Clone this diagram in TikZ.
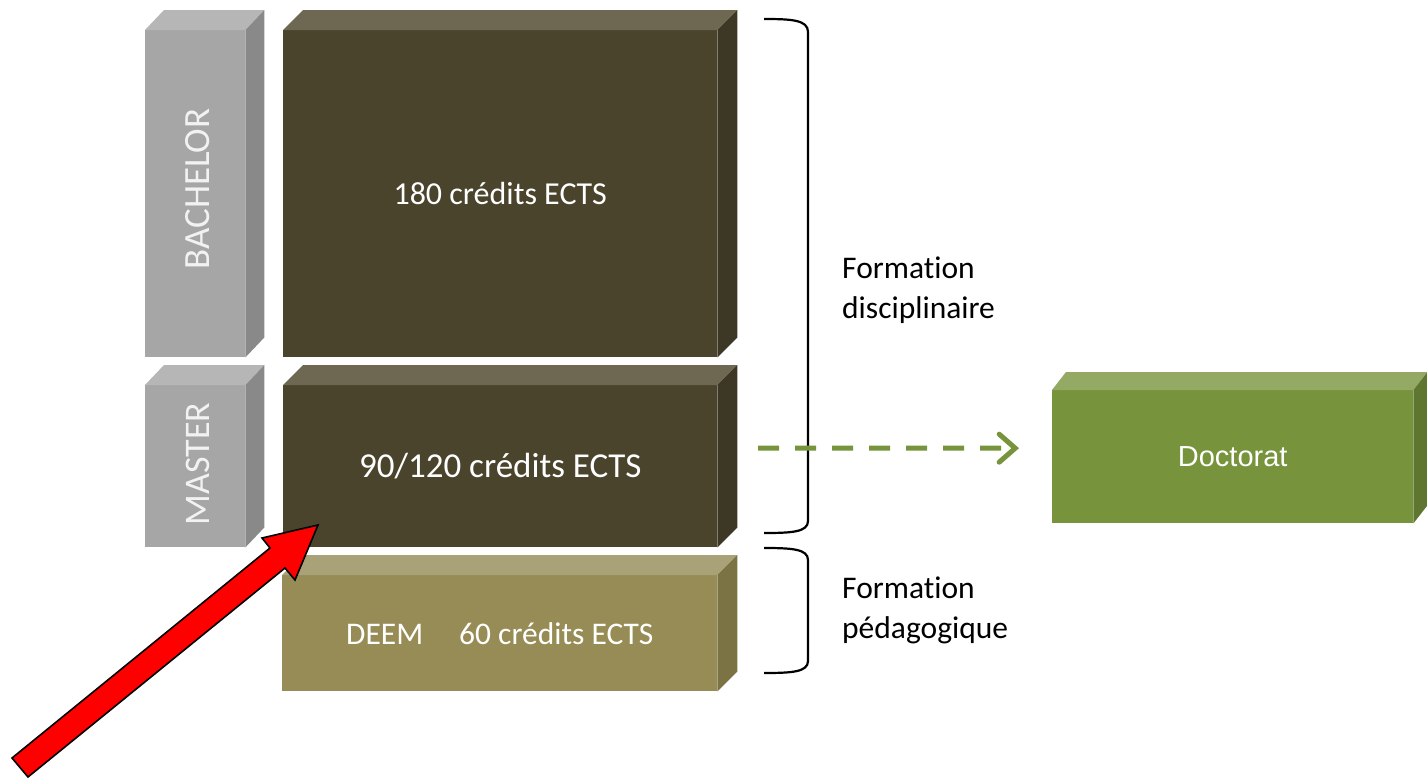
\documentclass[tikz,border=0pt]{standalone}
\usepackage{fontspec}
\setmainfont{Carlito}[Ligatures=NoCommon]
\newfontfamily\arialf{Liberation Sans}
\usetikzlibrary{calc,arrows.meta}
\definecolor{grayF}{HTML}{A6A6A6}
\definecolor{grayT}{HTML}{B6B6B6}
\definecolor{grayS}{HTML}{898989}
\definecolor{darkF}{HTML}{4A442D}
\definecolor{darkT}{HTML}{6E6853}
\definecolor{darkS}{HTML}{3D3825}
\definecolor{deemF}{HTML}{978C55}
\definecolor{deemT}{HTML}{A9A177}
\definecolor{deemS}{HTML}{7C7344}
\definecolor{docF}{HTML}{77933C}
\definecolor{docT}{HTML}{94A964}
\definecolor{docS}{HTML}{5F7630}
\definecolor{arrowG}{HTML}{77933C}
\tikzset{
  front/.style={inner sep=0pt, anchor=north west, text=white, font=\fontsize{32}{38}\selectfont},
  vlabel/.style={inner sep=0pt, rotate=90, text=white!95!black, font=\fontsize{36}{40}\selectfont},
  sidetext/.style={inner sep=0pt, anchor=north west, align=left, font=\fontsize{31.5}{40}\selectfont},
  bracket/.style={line width=2.2pt, black},
  dasharrow/.style={arrowG, line width=5pt, dash pattern=on 21pt off 16pt,
    -{Straight Barb[length=16pt, width=28pt, line cap=round]}},
  bigarrow/.style={fill=red, draw=black, line width=1.6pt, line join=miter},
}
\newcommand{\cubefaces}[5]{%
  \fill[#4] (#1.north west) -- ++(#2,-#3) -- ($(#1.north east)+(#2,-#3)$) -- (#1.north east) -- cycle;
  \fill[#5] (#1.north east) -- ++(#2,-#3) -- ($(#1.south east)+(#2,-#3)$) -- (#1.south east) -- cycle;
}
\begin{document}
\begin{tikzpicture}[x=1pt, y=-1pt]
\useasboundingbox (0,0) rectangle (1427,779);
% gray blocks
\node[front, fill=grayF, minimum width=100pt, minimum height=327pt] (bg) at (145,30) {};
\cubefaces{bg}{19}{20}{grayT}{grayS}
\node[vlabel, font=\fontsize{37}{40}\selectfont] (bglbl) at (198,189) {BACHELOR};
\node[front, fill=grayF, minimum width=100pt, minimum height=162pt] (mg) at (145,385) {};
\cubefaces{mg}{19}{20}{grayT}{grayS}
\node[vlabel] (mglbl) at (198,464) {MASTER};
% dark blocks
\node[front, fill=darkF, minimum width=434pt, minimum height=327pt] (bd) at (283,30) {180 crédits ECTS};
\cubefaces{bd}{20}{20}{darkT}{darkS}
\node[front, fill=darkF, minimum width=434pt, minimum height=162pt, font=\fontsize{35}{40}\selectfont] (md) at (283,385) {90/120 crédits ECTS};
\cubefaces{md}{20}{20}{darkT}{darkS}
% DEEM
\node[front, fill=deemF, minimum width=435pt, minimum height=116pt, font=\fontsize{31.5}{36}\selectfont] (deem) at (282,575) {DEEM\hspace{36pt}60 crédits ECTS};
\cubefaces{deem}{20}{20}{deemT}{deemS}
% Doctorat
\node[front, fill=docF, minimum width=361pt, minimum height=133pt, font=\arialf\fontsize{29}{32}\selectfont] (doc) at (1052,390) {Doctorat};
\cubefaces{doc}{14}{18}{docT}{docS}
% brackets
\coordinate (b1t) at (764,19);
\coordinate (b1b) at (764,533);
\draw[bracket] (b1t) .. controls (792,19) and (808,20) .. (808,32) -- (808,521) .. controls (808,532) and (792,533) .. (b1b);
\coordinate (b2t) at (764,548);
\coordinate (b2b) at (764,673);
\draw[bracket] (b2t) .. controls (792,548) and (808,549) .. (808,560) -- (808,661) .. controls (808,672) and (792,673) .. (b2b);
% side texts
\node[sidetext] (fdisc) at (842,257) {Formation\\disciplinaire};
\node[sidetext] (fped) at (842,577) {Formation\\pédagogique};
% dashed arrow
\coordinate (dstart) at (758,448);
\coordinate (dend) at ($(doc.west)+(-33,-8.5)$);
\draw[dasharrow] (dstart) -- (dend);
% red arrow
\coordinate (rtip) at (318,525);
\draw[bigarrow] (12,758) -- (270,548) -- (262,538) -- (rtip) -- (295,580) -- (285,568) -- (28,777) -- cycle;
\end{tikzpicture}
\end{document}
